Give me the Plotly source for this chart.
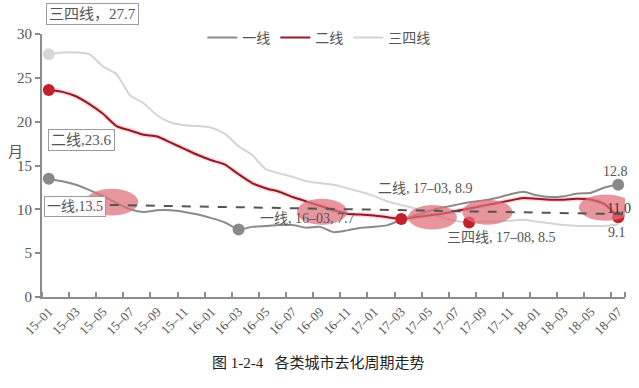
import plotly.graph_objects as go

months = ["15–01","15–02","15–03","15–04","15–05","15–06","15–07","15–08","15–09","15–10","15–11","15–12",
          "16–01","16–02","16–03","16–04","16–05","16–06","16–07","16–08","16–09","16–10","16–11","16–12",
          "17–01","17–02","17–03","17–04","17–05","17–06","17–07","17–08","17–09","17–10","17–11","17–12",
          "18–01","18–02","18–03","18–04","18–05","18–06","18–07"]

tier1 = [13.5, 13.2, 12.8, 12.2, 11.5, 10.7, 10.0, 9.7, 9.9, 9.9, 9.7, 9.4, 9.0, 8.5, 7.7,
         8.0, 8.1, 8.2, 8.2, 7.9, 8.0, 7.4, 7.6, 7.9, 8.0, 8.2, 8.8, 9.3, 9.8, 10.2, 10.5,
         10.8, 11.0, 11.3, 11.7, 12.0, 11.6, 11.4, 11.5, 11.8, 11.9, 12.5, 12.8]
tier2 = [23.6, 23.4, 22.9, 22.0, 20.9, 19.5, 19.0, 18.5, 18.3, 17.6, 16.9, 16.2, 15.6, 15.1, 14.0,
         13.0, 12.4, 12.0, 11.4, 10.9, 10.4, 9.9, 9.5, 9.4, 9.3, 9.1, 8.9, 9.1, 9.3, 9.5, 9.8,
         10.1, 10.4, 10.7, 11.0, 11.3, 11.2, 11.1, 11.1, 11.2, 11.1, 10.6, 9.1]
tier34 = [27.7, 27.9, 27.9, 27.7, 26.3, 25.4, 23.0, 22.1, 20.7, 19.9, 19.6, 19.5, 19.3, 18.6, 17.2,
          16.2, 14.6, 14.1, 13.7, 13.2, 13.0, 12.8, 12.4, 12.0, 11.5, 10.9, 10.5, 10.1, 9.6, 9.1, 8.7,
          8.5, 8.6, 8.6, 8.7, 8.8, 8.6, 8.4, 8.2, 8.1, 8.1, 8.1, 8.3]

tick_labels = months[::2]

# highlighted points (index into months)
t1_marks = [0, 14, 42]
t2_marks = [0, 26, 42]
t34_marks = [0, 31]

# dashed trend line (category position, value)
trend_x = [4.5, 42.5]
trend_y = [10.5, 9.45]

# highlight ellipses: (x0, x1, y0, y1) in category / value units
ellipse_x0 = [2.7, 18.3, 26.5, 30.5, 39.1]
ellipse_x1 = [6.6, 22.0, 30.1, 34.2, 43.1]
ellipse_y0 = [9.3, 8.25, 7.7, 8.25, 8.7]
ellipse_y1 = [12.35, 11.2, 10.5, 11.1, 11.7]

xs = list(range(len(months)))
FONT = "Liberation Serif, Noto Sans CJK SC, serif"
C1, C2, C34 = "#8a8a8a", "#8e1b26", "#d4d4d4"

fig = go.Figure()
fig.add_trace(go.Scatter(x=xs, y=tier34, mode="lines", name="三四线",
                         line=dict(color=C34, width=2, shape="spline", smoothing=0.6)))
fig.add_trace(go.Scatter(x=xs, y=tier2, mode="lines", showlegend=False, hoverinfo="skip",
                         line=dict(color="rgba(255,140,150,0.35)", width=5, shape="spline", smoothing=0.6)))
fig.add_trace(go.Scatter(x=xs, y=tier2, mode="lines", name="二线",
                         line=dict(color=C2, width=2, shape="spline", smoothing=0.6)))
fig.add_trace(go.Scatter(x=xs, y=tier1, mode="lines", name="一线",
                         line=dict(color=C1, width=2, shape="spline", smoothing=0.6)))

fig.add_trace(go.Scatter(x=t1_marks, y=[tier1[i] for i in t1_marks], mode="markers", showlegend=False,
                         marker=dict(color=C1, size=12)))
fig.add_trace(go.Scatter(x=t2_marks, y=[tier2[i] for i in t2_marks], mode="markers", showlegend=False,
                         marker=dict(color="#c4202c", size=12)))
fig.add_trace(go.Scatter(x=t34_marks, y=[tier34[i] for i in t34_marks], mode="markers", showlegend=False,
                         marker=dict(color=["#d8d8d8", "#c4202c"], size=12)))

shapes = []
for a, b, c, d in zip(ellipse_x0, ellipse_x1, ellipse_y0, ellipse_y1):
    shapes.append(dict(type="circle", xref="x", yref="y", x0=a, x1=b, y0=c, y1=d,
                       fillcolor="rgba(222,110,120,0.72)", line=dict(width=0), layer="above"))
shapes.append(dict(type="line", xref="x", yref="y", x0=trend_x[0], x1=trend_x[1],
                   y0=trend_y[0], y1=trend_y[1], line=dict(color="#555555", width=2, dash="dash"),
                   layer="above"))

annotations = []
def ann(text, x, y, size=14, box=False, color="#555555"):
    d = dict(text=text, x=x, y=y, xref="paper", yref="paper", showarrow=False,
             xanchor="center", yanchor="middle", font=dict(family=FONT, size=size, color=color))
    if box:
        d.update(bordercolor="#9a9a9a", borderwidth=1, bgcolor="rgba(255,255,255,0.9)", borderpad=2)
    annotations.append(d)

ann("三四线，27.7", 0.0858, 1.076, size=15, box=True)
ann("二线,23.6", 0.0686, 0.597, size=15, box=True)
ann("一线,13.5", 0.0566, 0.346, size=14, box=True)
ann("一线, 16–03, 7.7", 0.456, 0.300, size=14)
ann("二线, 17–03, 8.9", 0.657, 0.411, size=14)
ann("三四线, 17–08, 8.5", 0.789, 0.228, size=14)
ann("12.8", 0.983, 0.479, size=14)
ann("11.0", 0.990, 0.335, size=14, color="#333333")
ann("9.1", 0.986, 0.247, size=14)
ann("月", -0.046, 0.552, size=15)
ann("图 1-2-4\u00a0\u00a0\u00a0各类城市去化周期走势", 0.475, -0.251, size=15, color="#222222")

fig.update_layout(
    width=639, height=388,
    margin=dict(l=42, r=14, t=34, b=91),
    plot_bgcolor="white", paper_bgcolor="white",
    shapes=shapes, annotations=annotations,
    showlegend=True,
    legend=dict(orientation="h", x=0.275, y=0.985, xanchor="left", yanchor="middle",
                traceorder="reversed", itemwidth=30, bgcolor="rgba(0,0,0,0)",
                font=dict(family=FONT, size=14, color="#555555")),
    xaxis=dict(range=[-0.5, 42.5], tickmode="array", tickvals=xs[::2], ticktext=tick_labels,
               tickangle=-45, ticks="", showgrid=False, zeroline=False,
               showline=True, linecolor="#8c8c8c", linewidth=2,
               tickfont=dict(family=FONT, size=13, color="#555555"),
               minor=dict(tickmode="array", tickvals=[v - 0.5 for v in xs[::2]] + [42.5],
                          ticks="inside", ticklen=5, tickcolor="#8c8c8c", tickwidth=2, showgrid=False)),
    yaxis=dict(range=[0, 30], dtick=5, ticks="outside", ticklen=5, tickcolor="#8c8c8c", tickwidth=2,
               showgrid=False, zeroline=False, showline=True, linecolor="#8c8c8c", linewidth=2,
               tickfont=dict(family=FONT, size=15, color="#555555")),
)

fig.write_html("out.html", config={"displayModeBar": False})

# remove the browser's default page margin so the figure sits at the window's top-left corner
with open("out.html", encoding="utf-8") as f:
    html = f.read()
html = html.replace("<head>", "<head><style>html,body{margin:0;padding:0;overflow:hidden;}</style>", 1)
with open("out.html", "w", encoding="utf-8") as f:
    f.write(html)
